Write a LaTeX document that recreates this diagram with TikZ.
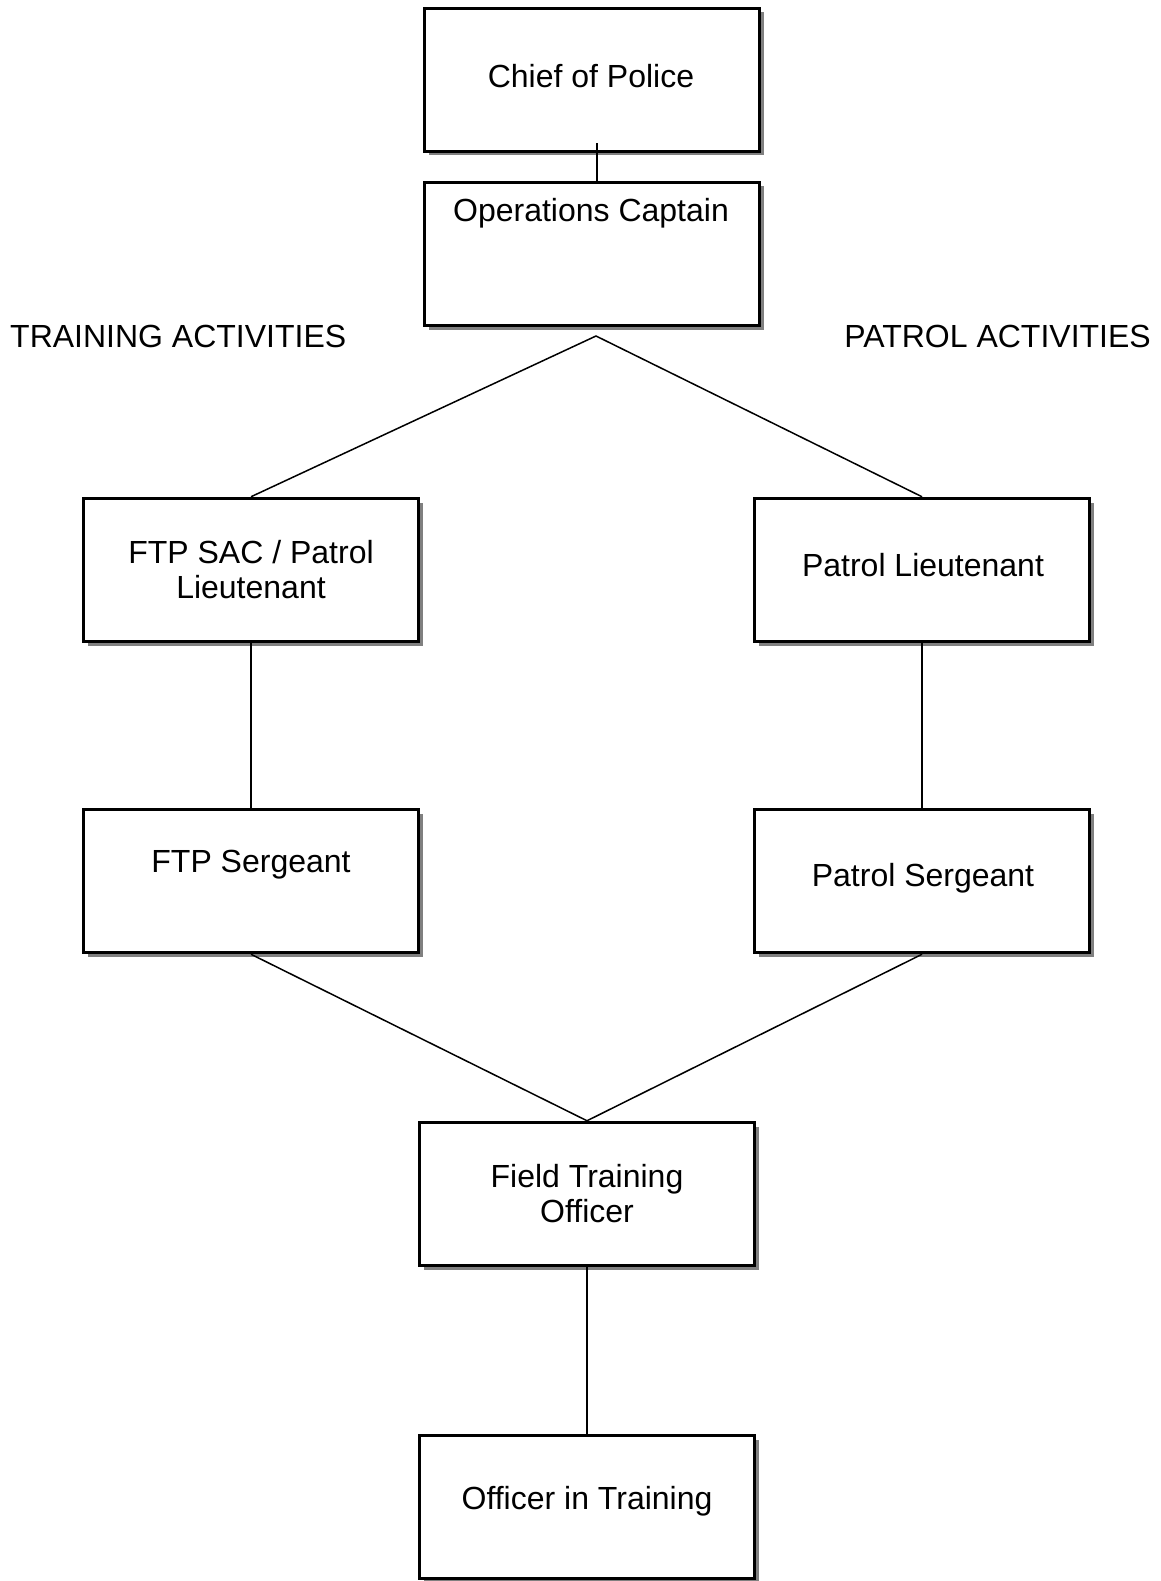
\documentclass[tikz,border=0pt]{standalone}
\usepackage{fontspec}
\setmainfont{Liberation Sans}
\usetikzlibrary{shadows,calc}
\begin{document}
\begin{tikzpicture}[x=1pt,y=-1pt,
  box/.style={draw=black, line width=3.5pt, fill=white, minimum width=335pt, minimum height=143pt, inner sep=0pt,
    drop shadow={shadow xshift=4pt, shadow yshift=-4pt, fill=black!50, opacity=1}},
  txt/.style={font=\fontsize{32}{35}\selectfont, align=center, inner sep=0pt},
  conn/.style={draw=black, line width=1.5pt}]
\useasboundingbox (0,0) rectangle (1160,1581);
% boxes
\node[box] (chief) at (592,80) {};
\node[box] (ops) at (592,254) {};
\node[box] (ftpsac) at (251,570) {};
\node[box] (patlt) at (922,570) {};
\node[box] (ftpsgt) at (251,881) {};
\node[box] (patsgt) at (922,881) {};
\node[box] (fto) at (587,1194) {};
\node[box] (oit) at (587,1507) {};
% texts
\node[txt] (tchief) at (591,76) {Chief of Police};
\node[txt] (tops) at (591,213) {Operations Captain};
\node[txt] (tftpsac) at (251,570) {FTP SAC / Patrol\\Lieutenant};
\node[txt] (tpatlt) at (923,565) {Patrol Lieutenant};
\node[txt] (tftpsgt) at (251,865) {FTP Sergeant};
\node[txt] (tpatsgt) at (923,878) {Patrol Sergeant};
\node[txt] (tfto) at (587,1194) {Field Training\\Officer};
\node[txt] (toit) at (587,1501) {Officer in Training};
\node[txt, anchor=west] (ltrain) at (10,336) {TRAINING ACTIVITIES};
\node[txt, anchor=east] (lpatrol) at (1151,336) {PATROL ACTIVITIES};
% connectors
\coordinate (apex) at (596,336);
\coordinate (cstart) at ($(chief.south)+(5,-10)$);
\draw[conn] (cstart) -- (cstart |- ops.north);
\draw[conn] (ftpsac.north) -- (apex) -- (patlt.north);
\draw[conn] (ftpsac.south) -- (ftpsgt.north);
\draw[conn] (patlt.south) -- (patsgt.north);
\draw[conn] (ftpsgt.south) -- (fto.north) -- (patsgt.south);
\draw[conn] (fto.south) -- (oit.north);
\end{tikzpicture}
\end{document}
